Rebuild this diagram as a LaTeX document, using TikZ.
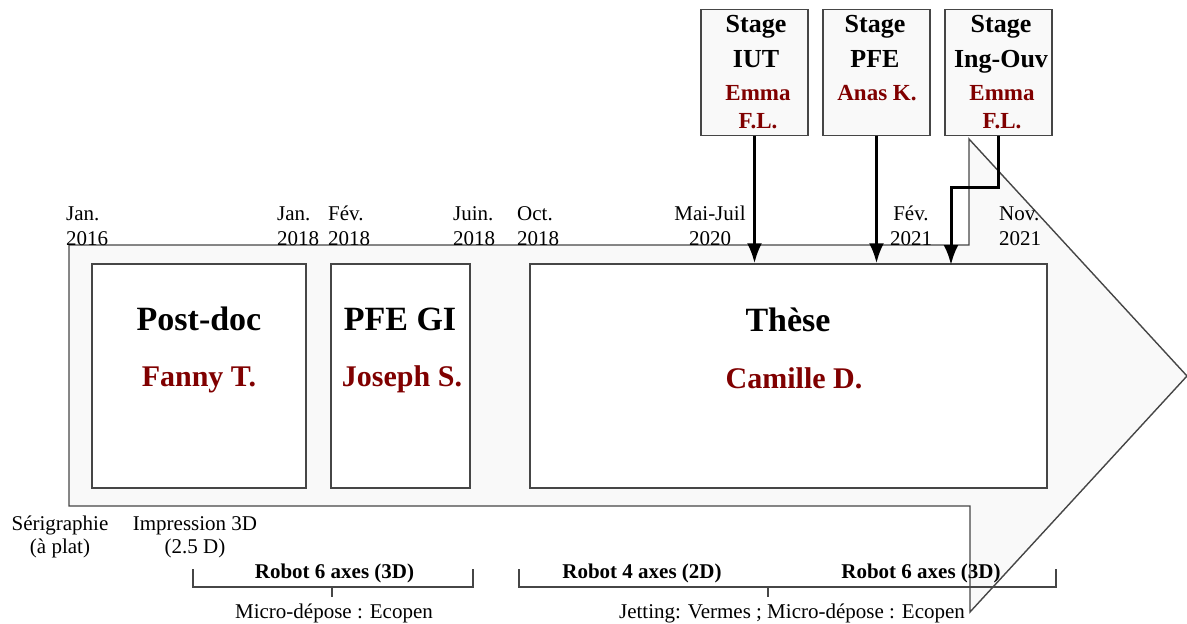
\documentclass[tikz,border=0pt]{standalone}
\usepackage{fontspec}
\setmainfont{Liberation Serif}
\usetikzlibrary{arrows.meta,positioning}
\definecolor{nomrouge}{RGB}{128,0,0}
\definecolor{fondgris}{RGB}{249,249,249}
\definecolor{traitgris}{RGB}{70,70,70}
\tikzset{
  cadre/.style={draw=traitgris, line width=1.4pt, fill=white, inner sep=0pt, minimum height=224pt},
  stagebox/.style={draw=traitgris, line width=1.4pt, fill=fondgris, inner sep=0pt, minimum width=107pt, minimum height=126pt},
  titre/.style={font=\fontsize{34}{40}\selectfont\bfseries, inner sep=0pt, anchor=base},
  nom/.style={font=\fontsize{30}{36}\selectfont\bfseries, text=nomrouge, inner sep=0pt, anchor=base},
  stitre/.style={font=\fontsize{26}{35}\selectfont\bfseries, align=center, inner sep=0pt, anchor=base},
  snom/.style={font=\fontsize{23}{28}\selectfont\bfseries, text=nomrouge, align=center, inner sep=0pt, anchor=base},
  date/.style={font=\fontsize{21}{25}\selectfont, align=left, inner sep=0pt, anchor=base west},
  datec/.style={date, align=center, anchor=base},
  legende/.style={font=\fontsize{21}{23}\selectfont, align=center, inner sep=0pt, anchor=base},
  robot/.style={font=\fontsize{21}{25}\selectfont\bfseries, inner sep=0pt, anchor=base},
  fleche/.style={line width=3pt, -{Latex[length=20pt,width=15pt]}},
  accolade/.style={draw=traitgris, line width=1.2pt},
}
\begin{document}
\begin{tikzpicture}[x=1pt, y=-1pt]
  \useasboundingbox (0,0) rectangle (1187,624);

  % grande fleche du temps
  \draw[draw=traitgris, line width=1.4pt, fill=fondgris]
    (69,245) -- (969,245) -- (969,139) -- (1187,376) -- (970,612) -- (970,506) -- (69,506) -- cycle;

  % periodes
  \node[cadre, minimum width=214pt] (postdoc) at (199,376) {};
  \node[cadre, minimum width=139pt] (pfegi) at (400.5,376) {};
  \node[cadre, minimum width=517pt] (these) at (788.5,376) {};

  \node[titre] (tpostdoc) at (199,330) {Post-doc};
  \node[nom] (npostdoc) at (199,386) {Fanny T.};
  \node[titre] (tpfegi) at (400,330) {PFE GI};
  \node[nom] (npfegi) at (402,386) {Joseph S.};
  \node[titre] (tthese) at (788,331) {Thèse};
  \node[nom] (nthese) at (794,388) {Camille D.};

  % stages
  \node[stagebox] (iut) at (754.5,72.5) {};
  \node[stagebox] (pfe) at (876.5,72.5) {};
  \node[stagebox] (ingouv) at (998.5,72.5) {};

  \node[stitre] (tiut) at (756,67) {Stage\\IUT};
  \node[snom] (niut) at (758,128) {Emma\\F.L.};
  \node[stitre] (tpfe) at (875,67) {Stage\\PFE};
  \node[snom] (npfe) at (877,100) {Anas K.};
  \node[stitre] (tingouv) at (1001,67) {Stage\\Ing-Ouv};
  \node[snom] (ningouv) at (1002,128) {Emma\\F.L.};

  \coordinate (arrivee) at (951,265);
  \draw[fleche] (iut.south) -- (iut.south |- these.north);
  \draw[fleche] (pfe.south) -- (pfe.south |- these.north);
  \draw[fleche] (ingouv.south) -- ++(0,51) -| (arrivee);

  % dates
  \node[date] (d1) at (66,245) {Jan.\\2016};
  \node[date] (d2) at (277,245) {Jan.\\2018};
  \node[date] (d3) at (328,245) {Fév.\\2018};
  \node[date] (d4) at (453,245) {Juin.\\2018};
  \node[date] (d5) at (517,245) {Oct.\\2018};
  \node[datec] (d6) at (710,245) {Mai-Juil\\2020};
  \node[datec] (d7) at (911,245) {Fév.\\2021};
  \node[date] (d8) at (999,245) {Nov.\\2021};

  % procedes
  \node[legende] (serigraphie) at (60,553) {Sérigraphie\\(à plat)};
  \node[legende] (impression) at (195,553) {Impression 3D\\(2.5 D)};

  \coordinate (g1) at (193,569);
  \coordinate (h1) at (473,569);
  \draw[accolade] (g1) -- ++(0,18) -| (h1);
  \draw[accolade] (332,587) -- (332,597);
  \node[robot] (robot1) at (334.5,578) {Robot 6 axes (3D)};
  \node[legende] (ecopen1) at (334,618) {Micro-dépose : Ecopen};

  \coordinate (g2) at (519,569);
  \coordinate (h2) at (1056,569);
  \draw[accolade] (g2) -- ++(0,18) -| (h2);
  \draw[accolade] (768,587) -- (768,597);
  \node[robot] (robot2) at (642,578) {Robot 4 axes (2D)};
  \node[robot] (robot3) at (921,578) {Robot 6 axes (3D)};
  \node[legende] (ecopen2) at (792,618) {Jetting: Vermes ; Micro-dépose : Ecopen};
\end{tikzpicture}
\end{document}
